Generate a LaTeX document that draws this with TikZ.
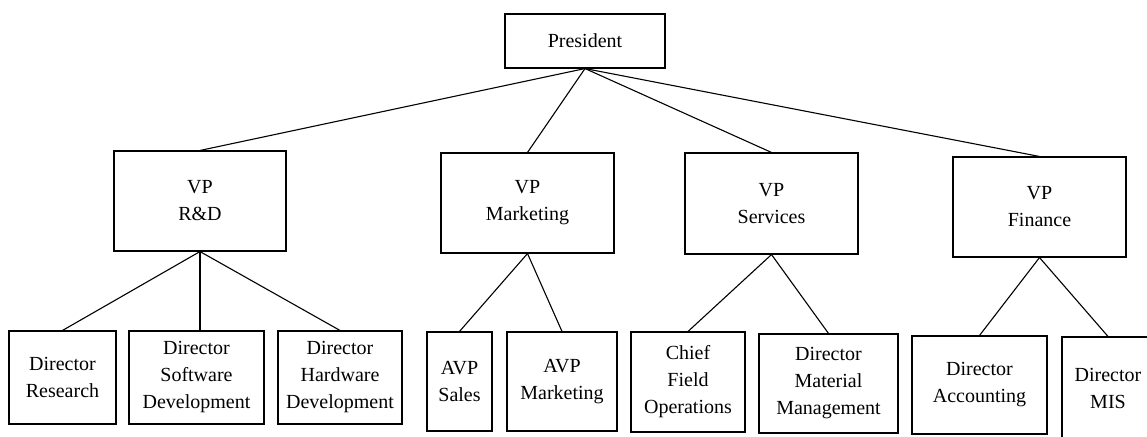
\documentclass[tikz,border=0pt]{standalone}
\usepackage{fontspec}
\setmainfont{Liberation Serif}
\usepackage{tikz}
\usetikzlibrary{positioning}

\begin{document}
\begin{tikzpicture}[x=1pt, y=-1pt,
    box/.style={draw, line width=1.1pt, align=center, inner sep=0pt,
                font=\fontsize{20}{27}\selectfont},
    link/.style={line width=1.1pt}]

    % =================================================================
    % 1. KHUNG HÌNH
    % =================================================================
    \clip (0,0) rectangle (1147,436);

    % =================================================================
    % 2. CẤP CAO NHẤT VÀ CÁC PHÓ CHỦ TỊCH
    % =================================================================
    \node[box, minimum width=160, minimum height=54] (pres) at (585,41) {President};

    \node[box, minimum width=172, minimum height=100] (vprd) at (200,201) {VP\\R\&D};
    \node[box, minimum width=173, minimum height=100] (vpmk) at (527.5,203) {VP\\Marketing};
    \node[box, minimum width=173, minimum height=101] (vpsv) at (771.5,203.5) {VP\\Services};
    \node[box, minimum width=173, minimum height=100] (vpfn) at (1039.5,207) {VP\\Finance};

    % =================================================================
    % 3. CẤP GIÁM ĐỐC
    % =================================================================
    \node[box, minimum width=107, minimum height=93] (dres) at (62.5,377.5) {Director\\Research};
    \node[box, minimum width=135, minimum height=93] (dsw) at (196.5,377.5) {Director\\Software\\Development};
    \node[box, minimum width=124, minimum height=93] (dhw) at (340,377.5) {Director\\Hardware\\Development};

    \node[box, minimum width=65, minimum height=99] (avps) at (459.5,381.5) {AVP\\Sales};
    \node[box, minimum width=110, minimum height=99] (avpm) at (562,381.5) {AVP\\Marketing};

    \node[box, minimum width=114, minimum height=100] (cfo) at (688,382) {Chief\\Field\\Operations};
    \node[box, minimum width=139, minimum height=99] (dmm) at (828.5,383.5) {Director\\Material\\Management};

    \node[box, minimum width=135, minimum height=98] (dacc) at (979.5,385) {Director\\Accounting};
    \node[box, minimum width=92, minimum height=103] (dmis) at (1108,388.5) {Director\\MIS};

    % =================================================================
    % 4. CÁC ĐƯỜNG NỐI
    % =================================================================
    \draw[link] (pres.south) -- (vprd.north);
    \draw[link] (pres.south) -- (vpmk.north);
    \draw[link] (pres.south) -- (vpsv.north);
    \draw[link] (pres.south) -- (vpfn.north);

    \draw[link] (vprd.south) -- (dres.north);
    \draw[link] (vprd.south) -- (vprd.south |- dsw.north);
    \draw[link] (vprd.south) -- (dhw.north);

    \draw[link] (vpmk.south) -- (avps.north);
    \draw[link] (vpmk.south) -- (avpm.north);

    \draw[link] (vpsv.south) -- (cfo.north);
    \draw[link] (vpsv.south) -- (dmm.north);

    \draw[link] (vpfn.south) -- (dacc.north);
    \draw[link] (vpfn.south) -- (dmis.north);

\end{tikzpicture}
\end{document}
